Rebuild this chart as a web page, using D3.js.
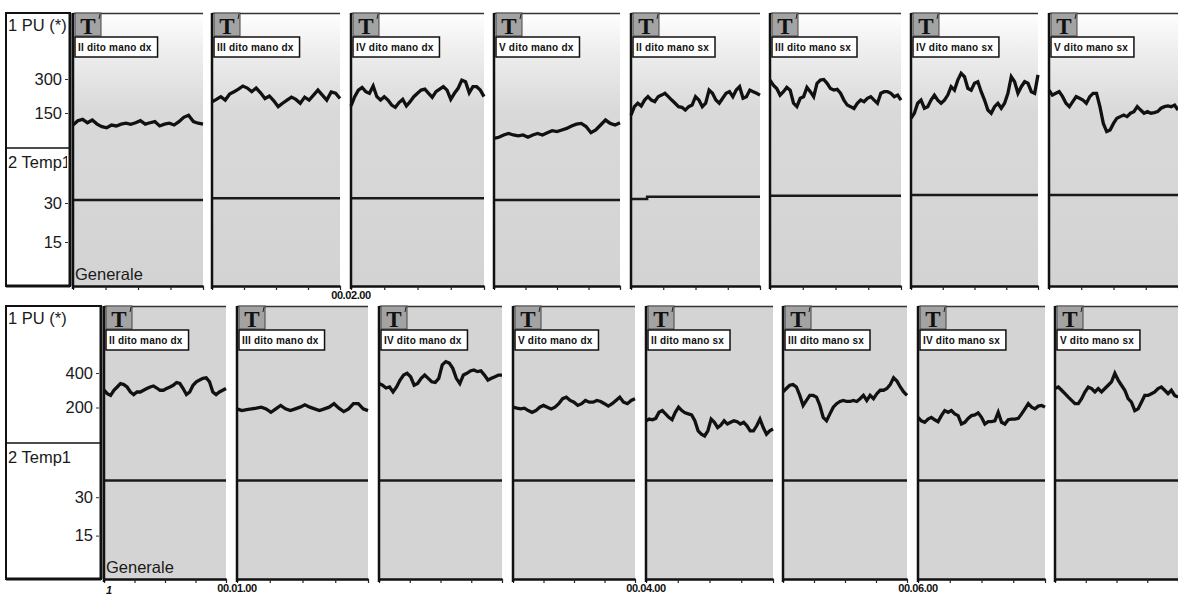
<!DOCTYPE html>
<html>
<head>
<meta charset="utf-8">
<script src="https://cdn.jsdelivr.net/npm/d3@7"></script>
<style>
  body { margin: 0; background: #fff; }
  svg { display: block; font-family: Arial, "Liberation Sans", sans-serif; }
</style>
</head>
<body>
<div id="chart"></div>
<script>
// two recordings, 8 fingers each, 1 minute per panel

var w = 1178;
var h = 596;

var fingers = ["II dito mano dx", "III dito mano dx", "IV dito mano dx", "V dito mano dx",
               "II dito mano sx", "III dito mano sx", "IV dito mano sx", "V dito mano sx"];

// 1 PU (*) - top recording
var puTop = [
  [97,116,122,107,119,101,90,85,97,93,101,105,100,107,116,101,107,112,93,101,105,97,112,131,140,112,105,101],
  [200,210,222,207,234,244,255,269,260,244,260,239,214,225,204,178,193,207,220,210,193,220,207,229,251,229,207,243,237,214],
  [181,222,251,263,244,237,269,222,207,222,207,185,175,196,210,181,200,222,237,251,255,237,219,244,255,266,251,210,237,259,295,288,239,266,266,251,222],
  [38,43,53,60,53,49,53,43,53,60,53,63,72,68,75,82,93,101,104,90,63,75,97,119,104,97,107],
  [141,178,193,181,207,222,207,200,222,229,237,222,207,193,178,175,163,178,185,222,207,178,193,251,237,207,193,215,237,244,222,251,266,215,222,251,244,237,229],
  [295,273,258,229,244,263,251,193,178,215,222,263,244,222,281,295,298,281,258,251,254,237,207,185,178,170,193,207,200,215,222,207,193,237,244,244,237,222,229,207],
  [127,149,193,207,171,178,207,229,207,193,207,229,266,251,295,325,310,259,251,281,288,244,207,163,149,178,193,171,193,237,310,288,237,266,288,281,244,237,318],
  [251,229,237,244,222,193,178,200,222,215,207,193,222,237,237,178,104,68,75,104,127,134,141,134,149,156,178,163,149,156,149,152,156,171,178,181,178,185,163]
];

// 1 PU (*) - bottom recording
var puBottom = [
  [300,280,270,300,319,339,333,319,290,275,290,290,300,310,319,325,313,300,300,310,319,329,345,339,310,275,290,329,349,359,369,372,349,290,275,290,300,310],
  [192,182,188,192,196,202,192,172,192,212,192,182,192,202,216,202,192,182,192,202,222,196,176,192,222,222,192,182],
  [339,329,313,319,290,319,359,388,398,378,329,339,369,388,369,349,345,369,447,466,457,427,369,339,388,398,412,418,408,412,388,359,369,378,388,388],
  [202,196,192,196,182,172,182,202,212,202,192,202,222,251,260,241,231,212,222,241,231,231,241,235,222,208,222,241,260,231,222,241,251],
  [123,133,129,137,172,182,163,143,129,172,202,182,169,163,157,123,65,45,35,65,133,114,84,98,123,104,114,123,118,104,114,94,65,65,94,133,84,45,65,75],
  [290,310,329,333,319,270,212,241,270,270,260,212,143,123,163,202,222,235,241,235,235,241,235,251,270,241,270,251,280,300,300,310,333,372,353,319,290,270],
  [143,123,114,133,143,129,118,153,182,172,182,163,153,104,114,137,153,157,169,143,104,118,118,123,172,114,104,129,133,133,137,163,192,222,202,192,208,212,202],
  [310,319,300,280,260,241,222,222,251,290,319,310,290,310,290,310,329,349,398,359,329,300,251,231,182,192,231,270,270,280,290,310,319,300,280,300,270,260]
];

// 2 Temp1
var tempTop = [
  [31.2,31.2,31.2,31.2,31.2,31.2,31.2,31.2],
  [31.8,31.8,31.8,31.8,31.8,31.8,31.8,31.8],
  [31.8,31.8,31.8,31.8,31.8,31.8,31.8,31.8],
  [31.2,31.2,31.2,31.2,31.2,31.2,31.2,31.2],
  [31.5,32.4,32.4,32.4,32.4,32.4,32.4,32.4],
  [32.8,32.8,32.8,32.8,32.8,32.8,32.8,32.8],
  [33.1,33.1,33.1,33.1,33.1,33.1,33.1,33.1],
  [33.1,33.1,33.1,33.1,33.1,33.1,33.1,33.1]
];
var tempBottom = [
  [36.5,36.5,36.5,36.5,36.5,36.5,36.5,36.5],
  [36.5,36.5,36.5,36.5,36.5,36.5,36.5,36.5],
  [36.5,36.5,36.5,36.5,36.5,36.5,36.5,36.5],
  [36.5,36.5,36.5,36.5,36.5,36.5,36.5,36.5],
  [36.5,36.5,36.5,36.5,36.5,36.5,36.5,36.5],
  [36.5,36.5,36.5,36.5,36.5,36.5,36.5,36.5],
  [36.5,36.5,36.5,36.5,36.5,36.5,36.5,36.5],
  [36.5,36.5,36.5,36.5,36.5,36.5,36.5,36.5]
];

var puTicksTop = [150, 300];
var puTicksBottom = [200, 400];
var tempTicks = [15, 30];
var timeLabelsTop = [2];       // minutes
var timeLabelsBottom = [1, 4, 6];

var rows = [
  { top: 13, bottom: 286, split: 148, box: [6, 70],
    panels: [[73,203],[212,340],[351,484],[494,620],[631,760],[770,901],[911,1038],[1049,1178]],
    pu: puTop, temp: tempTop, puMax: 600, puTicks: puTicksTop, gradient: true,
    timeLabels: timeLabelsTop },
  { top: 306, bottom: 579, split: 443, box: [6, 101],
    panels: [[104,226],[237,368],[379,502],[513,635],[646,773],[783,907],[918,1045],[1055,1178]],
    pu: puBottom, temp: tempBottom, puMax: 800, puTicks: puTicksBottom, gradient: false,
    timeLabels: timeLabelsBottom }
];

var fmtMin = function (m) { return "00.0" + m + ".00"; };

var svg = d3.select("#chart")
            .append("svg")
            .attr("width", w)
            .attr("height", h);

var defs = svg.append("defs");

var grad = defs.append("linearGradient")
               .attr("id", "topgrad")
               .attr("gradientUnits", "userSpaceOnUse")
               .attr("x1", 0).attr("y1", 13)
               .attr("x2", 0).attr("y2", 286);
grad.append("stop").attr("offset", "0%").attr("stop-color", "#ffffff");
grad.append("stop").attr("offset", "12%").attr("stop-color", "#f0f0f0");
grad.append("stop").attr("offset", "36%").attr("stop-color", "#d9d9d9");
grad.append("stop").attr("offset", "100%").attr("stop-color", "#d3d3d3");

rows.forEach(function (row, r) {
  var g = svg.append("g");

  // value scales (shared by all panels of the row)
  var yPU = d3.scaleLinear().domain([0, row.puMax]).range([row.split - 1, row.top - 2]);
  var yT = d3.scaleLinear().domain([0, 50]).range([row.bottom - 5, row.split + 3]);

  // ---- left label box ----
  var bx0 = row.box[0], bx1 = row.box[1];
  defs.append("clipPath")
      .attr("id", "boxclip" + r)
      .append("rect")
      .attr("x", bx0).attr("y", row.top)
      .attr("width", bx1 - bx0 - 3).attr("height", row.bottom - row.top);

  g.append("rect")
   .attr("x", bx0).attr("y", row.top)
   .attr("width", bx1 - bx0).attr("height", row.bottom - row.top)
   .attr("fill", "#fff")
   .attr("stroke", "#111")
   .attr("stroke-width", 2);
  g.append("line")
   .attr("x1", bx1).attr("x2", bx1)
   .attr("y1", row.top).attr("y2", row.bottom)
   .attr("stroke", "#111").attr("stroke-width", 3);
  g.append("line")
   .attr("x1", bx0).attr("x2", bx1)
   .attr("y1", row.bottom).attr("y2", row.bottom)
   .attr("stroke", "#111").attr("stroke-width", 3);
  g.append("line")
   .attr("x1", bx0).attr("x2", bx1)
   .attr("y1", row.split).attr("y2", row.split)
   .attr("stroke", "#111").attr("stroke-width", 1.5);

  var labels = g.append("g").attr("clip-path", "url(#boxclip" + r + ")")
                .attr("font-size", 16.5).attr("fill", "#1a1a1a");
  labels.append("text").attr("x", bx0 + 2).attr("y", row.top + 18).text("1 PU (*)");
  labels.append("text").attr("x", bx0 + 2).attr("y", row.split + 20).text("2 Temp1");

  var axPU = g.append("g")
              .attr("transform", "translate(" + (bx1 - 2) + ",0)")
              .call(d3.axisLeft(yPU).tickValues(row.puTicks).tickSize(3).tickSizeOuter(0).tickPadding(3));
  var axT = g.append("g")
             .attr("transform", "translate(" + (bx1 - 2) + ",0)")
             .call(d3.axisLeft(yT).tickValues(tempTicks).tickSize(3).tickSizeOuter(0).tickPadding(3));
  [axPU, axT].forEach(function (ax) {
    ax.select(".domain").remove();
    ax.selectAll("text").attr("font-size", 16.5).attr("font-family", "Arial, sans-serif").attr("fill", "#1a1a1a");
    ax.selectAll("line").attr("stroke", "#333");
  });

  // ---- panels ----
  row.panels.forEach(function (p, i) {
    var pg = g.append("g");
    var x = d3.scaleLinear().domain([i * 60, (i + 1) * 60]).range([p[0], p[1]]);

    pg.append("rect")
      .attr("x", p[0]).attr("y", row.top)
      .attr("width", p[1] - p[0]).attr("height", row.bottom - row.top)
      .attr("fill", row.gradient ? "url(#topgrad)" : "#d4d4d4");

    pg.append("line")
      .attr("x1", p[0]).attr("x2", p[1])
      .attr("y1", row.top + 0.5).attr("y2", row.top + 0.5)
      .attr("stroke", "#333").attr("stroke-width", 1.5);

    // temperature
    var tvals = row.temp[i];
    pg.append("path")
      .datum(tvals)
      .attr("fill", "none")
      .attr("stroke", "#1a1a1a")
      .attr("stroke-width", 2.5)
      .attr("d", d3.line()
                   .curve(d3.curveStepAfter)
                   .x(function (d, j) { return x(i * 60 + j * 60 / tvals.length); })
                   .y(function (d) { return yT(d); })(tvals.concat([tvals[tvals.length - 1]])));

    // PU trace
    var vals = row.pu[i];
    pg.append("path")
      .datum(vals)
      .attr("fill", "none")
      .attr("stroke", "#111")
      .attr("stroke-width", 3.3)
      .attr("stroke-linejoin", "miter")
      .attr("d", d3.line()
                   .x(function (d, j) { return x(i * 60 + j * 60 / (vals.length - 1)); })
                   .y(function (d) { return yPU(d); }));

    // time axis
    var ax = pg.append("g")
               .attr("transform", "translate(0," + row.bottom + ")")
               .call(d3.axisBottom(x)
                       .tickValues(d3.range(i * 60, i * 60 + 61, 15))
                       .tickSize(4).tickSizeOuter(0).tickFormat(""));
    ax.select(".domain").attr("stroke", "#111").attr("stroke-width", 2.5);
    ax.selectAll(".tick line").attr("stroke", "#222").attr("stroke-width", 1.2);

    // vertical axis line
    pg.append("line")
      .attr("x1", p[0]).attr("x2", p[0])
      .attr("y1", row.top).attr("y2", row.bottom + 3)
      .attr("stroke", "#111").attr("stroke-width", 2.5);

    // T badge
    pg.append("rect")
      .attr("x", p[0] + 2).attr("y", row.top)
      .attr("width", 26).attr("height", 23)
      .attr("fill", "#a3a3a3").attr("stroke", "#444").attr("stroke-width", 1);
    pg.append("text")
      .attr("x", p[0] + 15).attr("y", row.top + 21)
      .attr("text-anchor", "middle")
      .attr("font-family", "'Liberation Serif', 'DejaVu Serif', serif")
      .attr("font-weight", 700)
      .attr("font-size", 23)
      .attr("fill", "#111")
      .text("T");
    pg.append("line")
      .attr("x1", p[0] + 27).attr("x2", p[0] + 26)
      .attr("y1", row.top + 1).attr("y2", row.top + 6)
      .attr("stroke", "#222").attr("stroke-width", 1);

    // finger label
    var lb = pg.append("g");
    var lr = lb.append("rect")
               .attr("x", p[0] + 2).attr("y", row.top + 24)
               .attr("height", 20)
               .attr("fill", "#fff").attr("stroke", "#111").attr("stroke-width", 1.5);
    var lt = lb.append("text")
               .attr("x", p[0] + 5).attr("y", row.top + 38)
               .attr("font-size", 10).attr("font-weight", 700)
               .attr("letter-spacing", 0.2)
               .attr("fill", "#111")
               .text(fingers[i]);
    lr.attr("width", lt.node().getComputedTextLength() + 9);
  });

  // panel 1 title
  g.append("text")
   .attr("x", row.panels[0][0] + 2).attr("y", row.bottom - 6)
   .attr("font-size", 16.5).attr("fill", "#1a1a1a")
   .text("Generale");

  // time labels at the panel starting that minute
  row.timeLabels.forEach(function (m) {
    var p = row.panels[m];
    g.append("text")
     .attr("x", p[0]).attr("y", row.bottom + 13)
     .attr("text-anchor", "middle")
     .attr("font-size", 11).attr("font-weight", 700)
     .attr("letter-spacing", -0.4)
     .attr("fill", "#111")
     .text(fmtMin(m));
  });
});

// little cursor mark under the bottom label box
svg.append("text")
   .attr("x", 106).attr("y", 594)
   .attr("font-size", 11).attr("font-weight", 700)
   .attr("font-style", "italic")
   .attr("fill", "#111")
   .text("1");
</script>
</body>
</html>
